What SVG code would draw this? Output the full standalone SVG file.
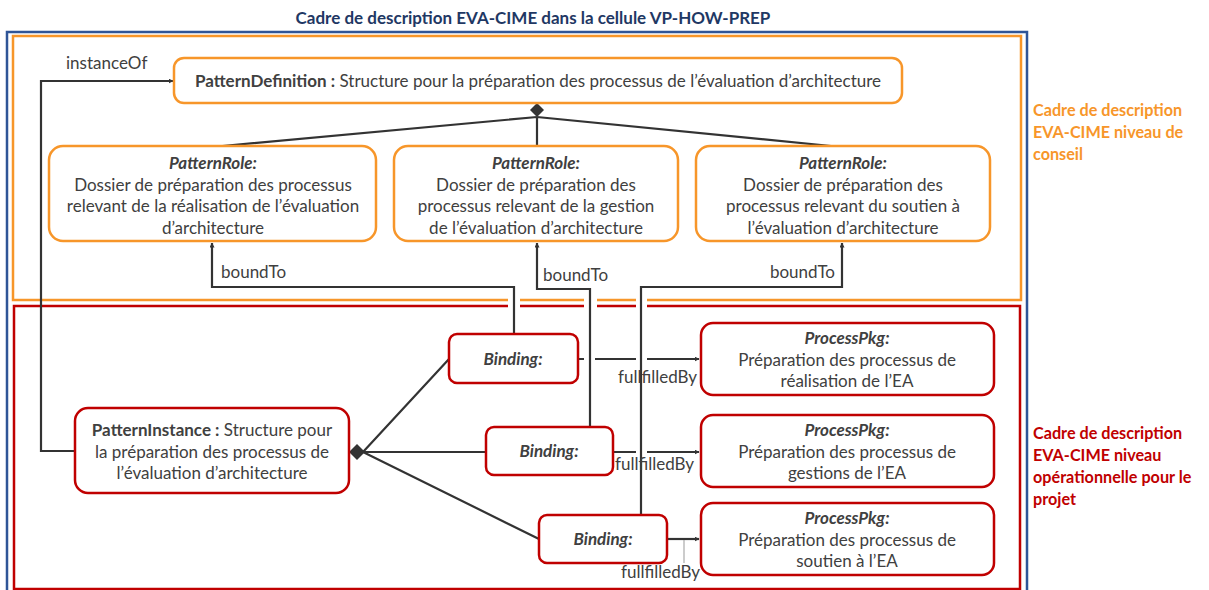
<svg xmlns="http://www.w3.org/2000/svg" width="1209" height="590" viewBox="0 0 1209 590">
<defs>
<style>
.t{font-family:Lato,"Open Sans",sans-serif;font-size:17px;fill:#404040}
.c{text-anchor:middle}
.b{font-weight:bold}
.bi{font-weight:bold;font-style:italic}
.ob{fill:#fff;stroke:#F7962A;stroke-width:2.5}
.rb{fill:#fff;stroke:#C00000;stroke-width:2.5}
.ln{fill:none;stroke:#333;stroke-width:2.2}
.fo{fill:none;stroke:#F7962A;stroke-width:2.5}
.fr{fill:none;stroke:#C00000;stroke-width:2.5}
.lbl{font-family:Lato,"Open Sans",sans-serif;font-size:17px;fill:#404040}
.fl{font-family:Lato,"Open Sans",sans-serif;font-size:16.2px;font-weight:bold}
</style>
<marker id="ar" viewBox="0 0 10 10" refX="9" refY="5" markerWidth="5" markerHeight="5" orient="auto" markerUnits="userSpaceOnUse">
<path d="M0,0 L10,5 L0,10 z" fill="#333"/>
</marker>
</defs>
<rect width="1209" height="590" fill="#fff"/>

<g id="title">
<text x="533" y="24" class="c b" style="font-family:Lato,'Open Sans',sans-serif;font-size:17px;fill:#1F3864">Cadre de description EVA-CIME dans la cellule VP-HOW-PREP</text>
</g>

<g id="frames">
<path d="M7,600 V32 H1027 V600" fill="none" stroke="#2F5597" stroke-width="2.5"/>
<path class="fo" d="M508,300 H13 V36 H1021 V300 H647 M636,300 H597 M584,300 H520"/>
<path class="fr" d="M508,306 H14 V589 H1020 V306 H647 M636,306 H597 M584,306 H520"/>
</g>

<g id="frame-labels">
<text class="fl" x="1033" y="116" fill="#F7962A">Cadre de description</text>
<text class="fl" x="1033" y="138" fill="#F7962A">EVA-CIME niveau de</text>
<text class="fl" x="1033" y="160" fill="#F7962A">conseil</text>
<text class="fl" x="1033" y="439" fill="#C00000">Cadre de description</text>
<text class="fl" x="1033" y="461" fill="#C00000">EVA-CIME niveau</text>
<text class="fl" x="1033" y="483" fill="#C00000">opérationnelle pour le</text>
<text class="fl" x="1033" y="505" fill="#C00000">projet</text>
</g>

<g id="connectors">
<!-- instanceOf -->
<path class="ln" d="M75,451 H41 V81 H173" marker-end="url(#ar)"/>
<text class="lbl" x="66" y="69">instanceOf</text>
<!-- composition PatternDefinition -->
<path class="ln" d="M537,117 L212,147 M537,117 V147 M537,117 L841,147"/>
<path d="M537,103 L544,110 L537,117 L530,110 z" fill="#333"/>
<!-- boundTo -->
<path class="ln" d="M514,334 V287 H212 V243" marker-end="url(#ar)"/>
<text class="lbl" x="221" y="278">boundTo</text>
<path class="ln" d="M590,427 V289 H537 V243" marker-end="url(#ar)"/>
<text class="lbl" x="543" y="281">boundTo</text>
<path class="ln" d="M641,515 V287 H842 V243" marker-end="url(#ar)"/>
<text class="lbl" x="835" y="278" text-anchor="end">boundTo</text>
<!-- composition PatternInstance -->
<path class="ln" d="M363,452 L449,359 M363,452 H486 M363,452 L539,539"/>
<path d="M349,452 L357,444 L365,452 L357,460 z" fill="#333"/>
<!-- fullfilledBy -->
<path class="ln" d="M578,359 H584 M595,359 H636 M647,359 H699" marker-end="url(#ar)"/>
<text class="lbl" x="618" y="383">fullfilledBy</text>
<path class="ln" d="M613,452 H636 M647,452 H699" marker-end="url(#ar)"/>
<text class="lbl" x="615" y="470">fullfilledBy</text>
<path class="ln" d="M668,539 H699" marker-end="url(#ar)"/>
<line x1="684" y1="540" x2="684" y2="563" stroke="#999" stroke-width="1"/>
<text class="lbl" x="621" y="578">fullfilledBy</text>
</g>

<g id="patternDefinition">
<rect class="ob" x="174" y="58" width="728" height="45" rx="10"/>
<text class="t c" x="538" y="87"><tspan class="b">PatternDefinition :</tspan> Structure pour la préparation des processus de l’évaluation d’architecture</text>
</g>

<g id="role1">
<rect class="ob" x="49" y="146" width="327" height="95" rx="14"/>
<text class="t c" x="213" y="169"><tspan class="bi">PatternRole:</tspan><tspan x="213" dy="21.5">Dossier de préparation des processus</tspan><tspan x="213" dy="21.5">relevant de la réalisation de l’évaluation</tspan><tspan x="213" dy="21.5">d’architecture</tspan></text>
</g>
<g id="role2">
<rect class="ob" x="394" y="146" width="284" height="95" rx="14"/>
<text class="t c" x="536" y="169"><tspan class="bi">PatternRole:</tspan><tspan x="536" dy="21.5">Dossier de préparation des</tspan><tspan x="536" dy="21.5">processus relevant de la gestion</tspan><tspan x="536" dy="21.5">de l’évaluation d’architecture</tspan></text>
</g>
<g id="role3">
<rect class="ob" x="696" y="146" width="294" height="95" rx="14"/>
<text class="t c" x="843" y="169"><tspan class="bi">PatternRole:</tspan><tspan x="843" dy="21.5">Dossier de préparation des</tspan><tspan x="843" dy="21.5">processus relevant du soutien à</tspan><tspan x="843" dy="21.5">l’évaluation d’architecture</tspan></text>
</g>

<g id="patternInstance">
<rect class="rb" x="75" y="408" width="274" height="85" rx="13"/>
<text class="t c" x="212" y="436"><tspan class="b">PatternInstance :</tspan> Structure pour<tspan x="212" dy="21.5">la préparation des processus de</tspan><tspan x="212" dy="21.5">l’évaluation d’architecture</tspan></text>
</g>

<g id="binding1">
<rect class="rb" x="449" y="334" width="129" height="49" rx="8"/>
<text class="t c bi" x="513" y="365">Binding:</text>
</g>
<g id="binding2">
<rect class="rb" x="486" y="427" width="127" height="48" rx="8"/>
<text class="t c bi" x="549" y="457">Binding:</text>
</g>
<g id="binding3">
<rect class="rb" x="539" y="515" width="128" height="48" rx="8"/>
<text class="t c bi" x="603" y="545">Binding:</text>
</g>

<g id="processPkg1">
<rect class="rb" x="701" y="323" width="293" height="72" rx="12"/>
<text class="t c" x="847" y="344"><tspan class="bi">ProcessPkg:</tspan><tspan x="847" dy="21.5">Préparation des processus de</tspan><tspan x="847" dy="21.5">réalisation de l’EA</tspan></text>
</g>
<g id="processPkg2">
<rect class="rb" x="701" y="415" width="293" height="72" rx="12"/>
<text class="t c" x="847" y="436"><tspan class="bi">ProcessPkg:</tspan><tspan x="847" dy="21.5">Préparation des processus de</tspan><tspan x="847" dy="21.5">gestions de l’EA</tspan></text>
</g>
<g id="processPkg3">
<rect class="rb" x="701" y="503" width="293" height="72" rx="12"/>
<text class="t c" x="847" y="524"><tspan class="bi">ProcessPkg:</tspan><tspan x="847" dy="21.5">Préparation des processus de</tspan><tspan x="847" dy="21.5">soutien à l’EA</tspan></text>
</g>
</svg>
